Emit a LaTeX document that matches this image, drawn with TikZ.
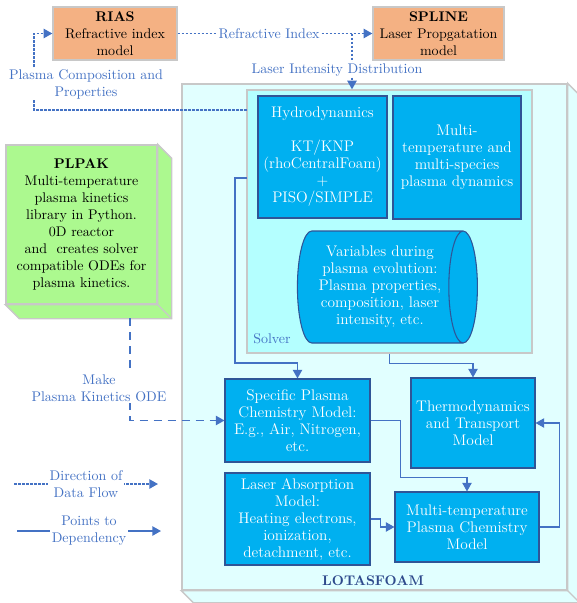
\documentclass[tikz,border=0pt]{standalone}
\usepackage{xcolor}
\usepackage{tikz}
\usetikzlibrary{shapes.geometric, arrows, arrows.meta, positioning}
\definecolor{flowblue}{HTML}{4472C4}
\definecolor{boxblue}{HTML}{00B0F0}
\definecolor{edgeblue}{HTML}{2F5597}
\definecolor{salmon}{HTML}{F4B183}
\definecolor{lime}{HTML}{ACF98F}
\definecolor{solvercyan}{HTML}{B4FFFF}
\definecolor{lotascyan}{HTML}{E1FFFF}
\definecolor{rim}{HTML}{C8C8C8}
\definecolor{titleblue}{HTML}{2E4A8C}

\begin{document}
\begin{tikzpicture}[
    x=0.75pt, y=-0.75pt,
    font=\fontsize{10.5}{12.75}\selectfont,
    model/.style={rectangle, draw=rim, fill=salmon, line width=1pt, align=center, inner sep=0pt},
    block/.style={rectangle, draw=edgeblue, fill=boxblue, line width=0.8pt, text=white, align=center, inner sep=0pt,
        font=\fontsize{11.5}{12.75}\selectfont},
    frame/.style={rectangle, draw=rim, line width=1pt, inner sep=0pt},
    lbl/.style={text=flowblue, align=center, inner sep=1pt},
    flow/.style={draw=flowblue, line width=1.1pt, dash pattern=on 2pt off 1pt, -{Triangle[length=6.5pt, width=7pt]}},
    dep/.style={draw=flowblue, line width=1.1pt, -{Triangle[length=6.5pt, width=7pt]}},
]
\useasboundingbox (0,0) rectangle (577,603);

% LOTASFOAM container
\node[frame, fill=lotascyan, minimum width=288.75pt, minimum height=379.5pt] (lotas) at (374.5,337) {};
\draw[draw=rim, fill=lotascyan, line width=1pt] (lotas.north east) -- ++(12,12) -- ([shift={(12,12)}]lotas.south east)
    -- ([shift={(12,12)}]lotas.south west) -- (lotas.south west) -- (lotas.south east) -- cycle;
\draw[draw=rim, line width=1pt] (lotas.south east) -- ++(12,12);
\node[font=\fontsize{10.5}{12.75}\selectfont\bfseries, text=titleblue] (lotaslbl) at (373,581) {LOTASFOAM};

% Solver
\node[frame, fill=solvercyan, minimum width=213.75pt, minimum height=197.25pt] (solver) at (389.5,221.5) {};
\node[lbl, anchor=base west, inner sep=0pt] (solverlbl) at (253,343) {Solver};

\node[block, minimum width=96.75pt, minimum height=91.5pt] (hydro) at (322.5,157)
    {Hydrodynamics\\[12.75pt]KT/KNP\\(rhoCentralFoam)\\+\\PISO/SIMPLE};
\node[block, minimum width=96pt, minimum height=92.25pt] (multi) at (457,157.5)
    {Multi-\\temperature and\\multi-species\\plasma dynamics};
\node[shape=cylinder, draw=edgeblue, line width=0.8pt, cylinder uses custom fill, cylinder body fill=boxblue,
    cylinder end fill=boxblue, text=white, align=center, inner sep=0pt, aspect=0.35,
    font=\fontsize{11.5}{12.75}\selectfont,
    minimum width=84pt, minimum height=135pt] (vars) at (380,287)
    {Variables during\\plasma evolution:\\Plasma properties,\\composition, laser\\intensity, etc.};

% Models inside LOTASFOAM
\node[block, minimum width=108.75pt, minimum height=62.25pt] (specific) at (297.5,420.5)
    {Specific Plasma\\Chemistry Model:\\E.g., Air, Nitrogen,\\etc.};
\node[block, minimum width=108.75pt, minimum height=69pt] (laser) at (297.5,519)
    {Laser Absorption\\Model:\\Heating electrons,\\ionization,\\detachment, etc.};
\node[block, minimum width=93pt, minimum height=67.5pt] (thermo) at (473,423)
    {Thermodynamics\\and Transport\\Model};
\node[block, minimum width=108pt, minimum height=52.5pt] (mtpc) at (467,527)
    {Multi-temperature\\Plasma Chemistry\\Model};

% External models
\node[model, minimum width=93pt, minimum height=39.75pt] (rias) at (115,33.5)
    {\textbf{RIAS}\\Refractive index\\model};
\node[model, minimum width=98.25pt, minimum height=39.75pt] (spline) at (438.5,33.5)
    {\textbf{SPLINE}\\Laser Propgatation\\model};

% PLPAK
\node[frame, fill=lime, align=center, minimum width=113.25pt, minimum height=119.25pt] (plpak) at (81.5,224.5)
    {\textbf{PLPAK}\\Multi-temperature\\plasma kinetics\\library in Python.\\0D reactor\\and~ creates solver\\compatible ODEs for\\plasma kinetics.};
\draw[draw=rim, fill=lime, line width=1pt] (plpak.north east) -- ++(14,14) -- ([shift={(14,14)}]plpak.south east)
    -- ([shift={(14,14)}]plpak.south west) -- (plpak.south west) -- (plpak.south east) -- cycle;
\draw[draw=rim, line width=1pt] (plpak.south east) -- ++(14,14);

% Data flow
\coordinate (branch) at (352,33.5);
\coordinate (pcp) at (247,110);
\draw[flow] (rias.east) -- node[lbl, fill=white, pos=0.47] (rilbl) {Refractive Index} (spline.west);
\draw[flow] (branch) -- node[lbl, fill=white, pos=0.65, xshift=-11.25pt] (lidlbl) {Laser Intensity Distribution} (branch |- solver.north);
\draw[flow] (pcp) -- ++(-213,0) |- (rias.west);
\node[lbl, fill=white] (pcplbl) at (86,84) {Plasma Composition and\\Properties};

% Dependencies
\coordinate (sv1) at (247,178);
\coordinate (mk) at (130,318);
\draw[dep] (sv1) -| ++(-12,185) -| (specific.north);
\draw[dep] (solver.south) -- ++(0,10) -| (thermo.north);
\draw[dep] (specific.east) -| ++(30,57) -| (mtpc.north);
\draw[dep] (laser.east) -- ++(10,0) |- (mtpc.west);
\draw[dep] (mtpc.east) -- ++(20,0) |- (thermo.east);
\draw[dep, dash pattern=on 6pt off 4.5pt] (mk) |- (specific.west);
\node[lbl, fill=white] (mklbl) at (99,388) {Make\\Plasma Kinetics ODE};

% Legend
\coordinate (dfs) at (14,484);
\coordinate (dfe) at (158,484);
\coordinate (pds) at (17,531);
\coordinate (pde) at (161,531);
\draw[flow] (dfs) -- node[lbl, fill=white] (dflbl) {Direction of\\Data Flow} (dfe);
\draw[dep] (pds) -- node[lbl, fill=white] (pdlbl) {Points to\\Dependency} (pde);

\end{tikzpicture}
\end{document}
